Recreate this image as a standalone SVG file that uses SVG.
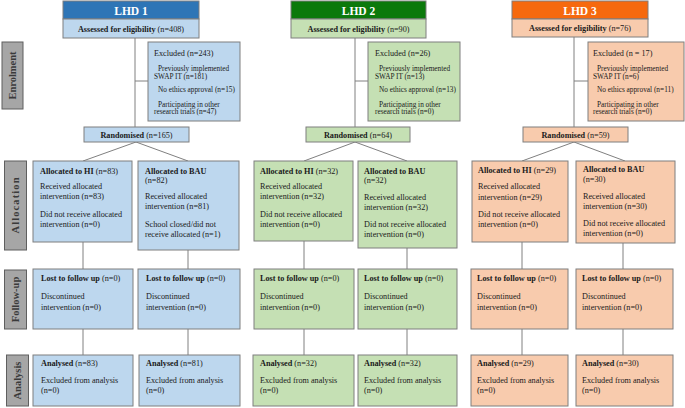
<svg xmlns="http://www.w3.org/2000/svg" width="685" height="408" viewBox="0 0 685 408">
<style>
.b1{fill:#bdd7ee;stroke:#7f7f7f;stroke-width:1}
.b2{fill:#c5e0b4;stroke:#7f7f7f;stroke-width:1}
.b3{fill:#f8cbad;stroke:#7f7f7f;stroke-width:1}
.h1{fill:#2e75b6;stroke:#7f7f7f}
.h2{fill:#0b790b;stroke:#7f7f7f}
.h3{fill:#f6690e;stroke:#7f7f7f}
.side{fill:#a6a6a6;stroke:#5f5f5f;stroke-width:1}
.st{font-family:"Liberation Serif","Times New Roman",serif;font-size:10.5px;font-weight:bold;fill:#3a3a3a}
.t{font-family:"Liberation Serif","Times New Roman",serif;font-size:8.2px;fill:#1a1a1a}
.s{font-size:7.3px}
.b{font-weight:bold}
.ht{font-family:"Liberation Serif","Times New Roman",serif;font-size:11.5px;font-weight:bold;fill:#ffffff}
.c{text-anchor:middle}
.ln{stroke:#808080;stroke-width:1;fill:none}
</style>

<!-- side labels -->
<g id="side-enrolment"><rect class="side" x="2" y="42" width="21" height="67"/><text class="st c" transform="translate(16,75.5) rotate(-90)">Enrolment</text></g>
<g id="side-allocation"><rect class="side" x="4.5" y="161" width="22" height="89"/><text class="st c" transform="translate(19,205.5) rotate(-90)" textLength="56" lengthAdjust="spacing">Allocation</text></g>
<g id="side-followup"><rect class="side" x="4.5" y="270" width="22" height="59"/><text class="st c" transform="translate(19,299.5) rotate(-90)">Follow-up</text></g>
<g id="side-analysis"><rect class="side" x="6.5" y="355" width="22" height="51"/><text class="st c" transform="translate(21,380.5) rotate(-90)">Analysis</text></g>

<!-- connectors -->
<g id="connectors">
<path class="ln" d="M135,38V127M135,81H148M136,142L83,161M136,142L188,161M83,242V269M188,250V269M83,329V355M188,329V355"/>
<path class="ln" d="M355,38V127M355,81H368M355,142L304,161M355,142L407,161M304,241V269M407,248V269M304,329V355M407,329V355"/>
<path class="ln" d="M574,37V127M574,81H588M574,142L522,161M574,142L625,161M522,242V269M623,243V269M522,329V355M623,329V355"/>
</g>

<!-- LHD 1 -->
<g id="lhd1-header"><rect class="h1" x="63" y="1" width="136" height="18"/><text class="ht c" x="131" y="14.5">LHD 1</text></g>
<g id="lhd1-assessed"><rect class="b1" x="63" y="19" width="136" height="19"/><text class="t c" x="131" y="31.5"><tspan class="b">Assessed for eligibility</tspan> (n=408)</text></g>
<g id="lhd1-excluded"><rect class="b1" x="148" y="42" width="92" height="79"/>
<text class="t" x="154" y="55.5">Excluded (n=243)</text>
<text class="t s" x="158" y="71">Previously implemented</text>
<text class="t s" x="154" y="78.5">SWAP IT (n=181)</text>
<text class="t s" x="158" y="92">No ethics approval (n=15)</text>
<text class="t s" x="158" y="106.5">Participating in other</text>
<text class="t s" x="154" y="114">research trials (n=47)</text></g>
<g id="lhd1-randomised"><rect class="b1" x="84" y="127" width="105" height="15"/><text class="t c" x="136.5" y="137.5"><tspan class="b">Randomised</tspan> (n=165)</text></g>
<g id="lhd1-alloc-hi"><rect class="b1" x="33" y="161" width="99" height="81"/>
<text class="t" x="40" y="173.5"><tspan class="b">Allocated to HI</tspan> (n=83)</text>
<text class="t" x="40" y="189">Received allocated</text>
<text class="t" x="40" y="199">intervention (n=83)</text>
<text class="t" x="40" y="216.5">Did not receive allocated</text>
<text class="t" x="40" y="226.5">intervention (n=0)</text></g>
<g id="lhd1-alloc-bau"><rect class="b1" x="138" y="161" width="101" height="89"/>
<text class="t b" x="145" y="173.5">Allocated to BAU</text>
<text class="t" x="145" y="183">(n=82)</text>
<text class="t" x="145" y="199">Received allocated</text>
<text class="t" x="145" y="209">intervention (n=81)</text>
<text class="t" x="145" y="226.5">School closed/did not</text>
<text class="t" x="145" y="237">receive allocated (n=1)</text></g>
<g id="lhd1-fu-hi"><rect class="b1" x="33" y="269" width="100" height="60"/>
<text class="t" x="41" y="281"><tspan class="b">Lost to follow up</tspan> (n=0)</text>
<text class="t" x="41" y="299">Discontinued</text>
<text class="t" x="41" y="309.5">intervention (n=0)</text></g>
<g id="lhd1-fu-bau"><rect class="b1" x="138" y="269" width="102" height="60"/>
<text class="t" x="146" y="281"><tspan class="b">Lost to follow up</tspan> (n=0)</text>
<text class="t" x="146" y="299">Discontinued</text>
<text class="t" x="146" y="309.5">intervention (n=0)</text></g>
<g id="lhd1-an-hi"><rect class="b1" x="33" y="355" width="100" height="51"/>
<text class="t" x="41" y="366"><tspan class="b">Analysed</tspan> (n=83)</text>
<text class="t" x="41" y="383">Excluded from analysis</text>
<text class="t" x="41" y="393">(n=0)</text></g>
<g id="lhd1-an-bau"><rect class="b1" x="139" y="355" width="101" height="51"/>
<text class="t" x="146" y="366"><tspan class="b">Analysed</tspan> (n=81)</text>
<text class="t" x="146" y="383">Excluded from analysis</text>
<text class="t" x="146" y="393">(n=0)</text></g>

<!-- LHD 2 -->
<g id="lhd2-header"><rect class="h2" x="291" y="1" width="135" height="18"/><text class="ht c" x="358.5" y="14.5">LHD 2</text></g>
<g id="lhd2-assessed"><rect class="b2" x="291" y="19" width="135" height="19"/><text class="t c" x="358.5" y="31.5"><tspan class="b">Assessed for eligibility</tspan> (n=90)</text></g>
<g id="lhd2-excluded"><rect class="b2" x="368" y="42" width="92" height="79"/>
<text class="t" x="375" y="55.5">Excluded (n=26)</text>
<text class="t s" x="379" y="71">Previously implemented</text>
<text class="t s" x="375" y="78.5">SWAP IT (n=13)</text>
<text class="t s" x="379" y="92">No ethics approval (n=13)</text>
<text class="t s" x="379" y="106.5">Participating in other</text>
<text class="t s" x="375" y="114">research trials (n=0)</text></g>
<g id="lhd2-randomised"><rect class="b2" x="306" y="127" width="104" height="15"/><text class="t c" x="358" y="137.5"><tspan class="b">Randomised</tspan> (n=64)</text></g>
<g id="lhd2-alloc-hi"><rect class="b2" x="254" y="161" width="99" height="80"/>
<text class="t" x="260" y="173.5"><tspan class="b">Allocated to HI</tspan> (n=32)</text>
<text class="t" x="260" y="189">Received allocated</text>
<text class="t" x="260" y="199">intervention (n=32)</text>
<text class="t" x="260" y="216.5">Did not receive allocated</text>
<text class="t" x="260" y="226.5">intervention (n=0)</text></g>
<g id="lhd2-alloc-bau"><rect class="b2" x="358" y="161" width="99" height="87"/>
<text class="t b" x="364" y="173.5">Allocated to BAU</text>
<text class="t" x="364" y="183">(n=32)</text>
<text class="t" x="364" y="199.5">Received allocated</text>
<text class="t" x="364" y="209.5">intervention (n=32)</text>
<text class="t" x="364" y="226.5">Did not receive allocated</text>
<text class="t" x="364" y="237">intervention (n=0)</text></g>
<g id="lhd2-fu-hi"><rect class="b2" x="254" y="269" width="100" height="60"/>
<text class="t" x="260" y="281"><tspan class="b">Lost to follow up</tspan> (n=0)</text>
<text class="t" x="260" y="299">Discontinued</text>
<text class="t" x="260" y="309.5">intervention (n=0)</text></g>
<g id="lhd2-fu-bau"><rect class="b2" x="358" y="269" width="99" height="60"/>
<text class="t" x="364" y="281"><tspan class="b">Lost to follow up</tspan> (n=0)</text>
<text class="t" x="364" y="299">Discontinued</text>
<text class="t" x="364" y="309.5">intervention (n=0)</text></g>
<g id="lhd2-an-hi"><rect class="b2" x="253" y="355" width="101" height="51"/>
<text class="t" x="260" y="366"><tspan class="b">Analysed</tspan> (n=32)</text>
<text class="t" x="260" y="383">Excluded from analysis</text>
<text class="t" x="260" y="393">(n=0)</text></g>
<g id="lhd2-an-bau"><rect class="b2" x="358" y="355" width="99" height="51"/>
<text class="t" x="364" y="366"><tspan class="b">Analysed</tspan> (n=32)</text>
<text class="t" x="364" y="383">Excluded from analysis</text>
<text class="t" x="364" y="393">(n=0)</text></g>

<!-- LHD 3 -->
<g id="lhd3-header"><rect class="h3" x="512" y="1" width="136" height="18"/><text class="ht c" x="580" y="14.5">LHD 3</text></g>
<g id="lhd3-assessed"><rect class="b3" x="512" y="19" width="136" height="18"/><text class="t c" x="580" y="31"><tspan class="b">Assessed for eligibility</tspan> (n=76)</text></g>
<g id="lhd3-excluded"><rect class="b3" x="588" y="42" width="96" height="79"/>
<text class="t" x="593" y="55.5">Excluded (n = 17)</text>
<text class="t s" x="597" y="71">Previously implemented</text>
<text class="t s" x="593" y="78.5">SWAP IT (n=6)</text>
<text class="t s" x="597" y="92">No ethics approval (n=11)</text>
<text class="t s" x="597" y="106.5">Participating in other</text>
<text class="t s" x="593" y="114">research trials (n=0)</text></g>
<g id="lhd3-randomised"><rect class="b3" x="523" y="127" width="105" height="15"/><text class="t c" x="575.5" y="137.5"><tspan class="b">Randomised</tspan> (n=59)</text></g>
<g id="lhd3-alloc-hi"><rect class="b3" x="472" y="161" width="96" height="81"/>
<text class="t" x="478" y="173"><tspan class="b">Allocated to HI</tspan> (n=29)</text>
<text class="t" x="478" y="189">Received allocated</text>
<text class="t" x="478" y="199.5">intervention (n=29)</text>
<text class="t" x="478" y="216.5">Did not receive allocated</text>
<text class="t" x="478" y="227">intervention (n=0)</text></g>
<g id="lhd3-alloc-bau"><rect class="b3" x="576" y="161" width="99" height="82"/>
<text class="t b" x="583" y="171.5">Allocated to BAU</text>
<text class="t" x="583" y="181.5">(n=30)</text>
<text class="t" x="583" y="198.5">Received allocated</text>
<text class="t" x="583" y="208.5">intervention (n=30)</text>
<text class="t" x="583" y="226">Did not receive allocated</text>
<text class="t" x="583" y="236">intervention (n=0)</text></g>
<g id="lhd3-fu-hi"><rect class="b3" x="471" y="269" width="97" height="60"/>
<text class="t" x="477" y="281"><tspan class="b">Lost to follow up</tspan> (n=0)</text>
<text class="t" x="477" y="299">Discontinued</text>
<text class="t" x="477" y="309.5">intervention (n=0)</text></g>
<g id="lhd3-fu-bau"><rect class="b3" x="576" y="269" width="97" height="60"/>
<text class="t" x="582" y="281"><tspan class="b">Lost to follow up</tspan> (n=0)</text>
<text class="t" x="582" y="299">Discontinued</text>
<text class="t" x="582" y="309.5">intervention (n=0)</text></g>
<g id="lhd3-an-hi"><rect class="b3" x="471" y="355" width="97" height="51"/>
<text class="t" x="477" y="366"><tspan class="b">Analysed</tspan> (n=29)</text>
<text class="t" x="477" y="383">Excluded from analysis</text>
<text class="t" x="477" y="393">(n=0)</text></g>
<g id="lhd3-an-bau"><rect class="b3" x="576" y="355" width="97" height="51"/>
<text class="t" x="582" y="366"><tspan class="b">Analysed</tspan> (n=30)</text>
<text class="t" x="582" y="383">Excluded from analysis</text>
<text class="t" x="582" y="393">(n=0)</text></g>
</svg>
